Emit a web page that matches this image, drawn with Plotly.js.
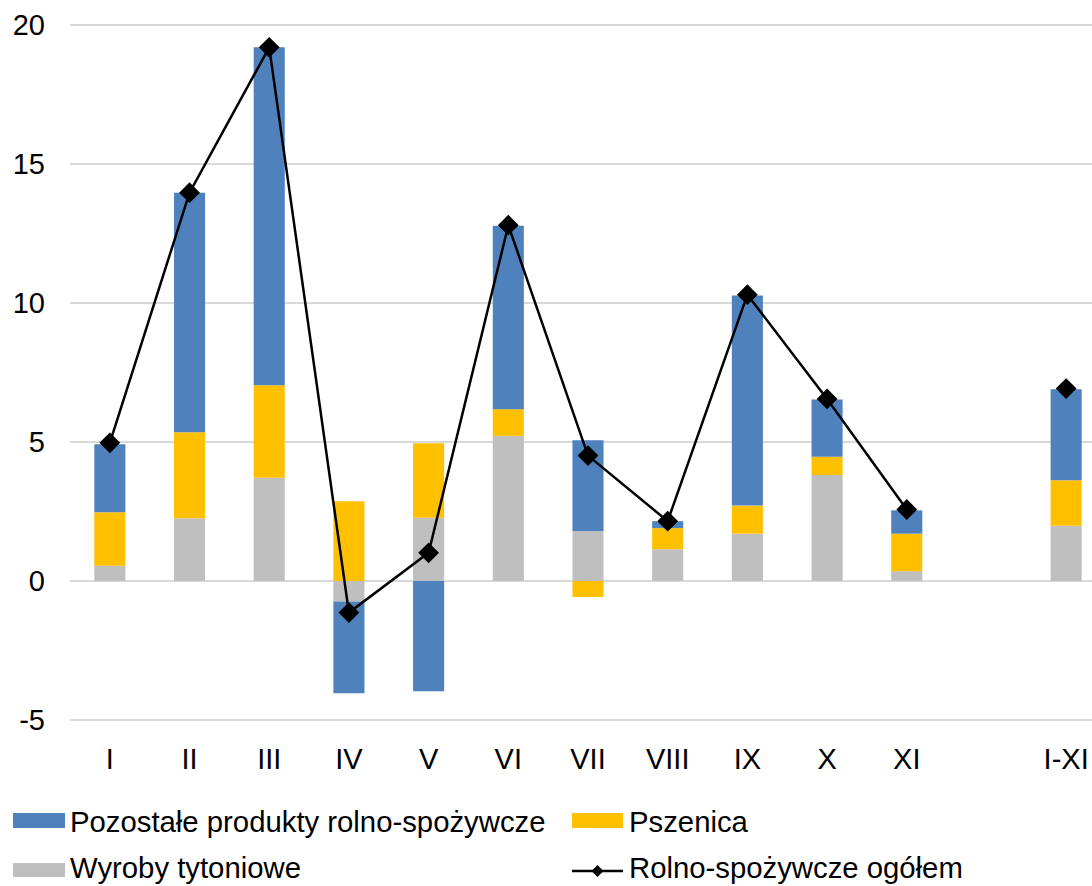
<!DOCTYPE html>
<html>
<head>
<meta charset="utf-8">
<script src="https://cdn.plot.ly/plotly-3.0.1.min.js"></script>
<style>
  html, body { margin: 0; padding: 0; overflow: hidden; background: #fff; }
  #chart { width: 1110px; height: 886px; }
</style>
</head>
<body>
<div id="chart"></div>
<script>
// ---- data ----
const categories = ['I', 'II', 'III', 'IV', 'V', 'VI', 'VII', 'VIII', 'IX', 'X', 'XI', ' ', 'I-XI'];
const wyrobyTytoniowe = [0.55, 2.26, 3.71, -0.74, 2.27, 5.22, 1.80, 1.14, 1.70, 3.81, 0.35, null, 1.99];
const pszenica = [1.92, 3.09, 3.33, 2.87, 2.68, 0.96, -0.58, 0.76, 1.01, 0.66, 1.35, null, 1.63];
const pozostale = [2.45, 8.62, 12.16, -3.30, -3.97, 6.60, 3.26, 0.25, 7.56, 2.06, 0.84, null, 3.28];
const ogolem = [4.97, 13.97, 19.2, -1.14, 1.01, 12.8, 4.51, 2.15, 10.3, 6.55, 2.57, null, 6.92];
const yTicks = [-5, 0, 5, 10, 15, 20];
const legendLabels = ['Pozostałe produkty rolno-spożywcze', 'Pszenica', 'Wyroby tytoniowe', 'Rolno-spożywcze ogółem'];

// ---- styling ----
const C_BLUE = '#4f81bd', C_YELLOW = '#ffc000', C_GREY = '#bfbfbf';
const FONT = 'Liberation Sans, Arial, sans-serif';
const FS = 29;

const W = 1110, H = 886;
const M = { l: 70, r: 4, t: 24, b: 165 };
const PW = W - M.l - M.r, PH = H - M.t - M.b;
const px = x => (x - M.l) / PW;
const py = y => (M.t + PH - y) / PH;

const traces = [
  { type: 'bar', name: 'Wyroby tytoniowe', x: categories, y: wyrobyTytoniowe,
    marker: { color: C_GREY }, showlegend: false },
  { type: 'bar', name: 'Pszenica', x: categories, y: pszenica,
    marker: { color: C_YELLOW }, showlegend: false },
  { type: 'bar', name: 'Pozostałe produkty rolno-spożywcze', x: categories, y: pozostale,
    marker: { color: C_BLUE }, showlegend: false },
  { type: 'scatter', mode: 'lines+markers', name: 'Rolno-spożywcze ogółem', x: categories, y: ogolem,
    connectgaps: false,
    line: { color: '#000', width: 2.5 },
    marker: { symbol: 'diamond', size: 16, color: '#000' }, showlegend: false }
];

// manual legend (swatches + text)
const shapes = [
  { type: 'rect', xref: 'paper', yref: 'paper', x0: px(13), x1: px(65), y0: py(828), y1: py(813),
    fillcolor: C_BLUE, line: { width: 0 } },
  { type: 'rect', xref: 'paper', yref: 'paper', x0: px(572), x1: px(623), y0: py(828), y1: py(813),
    fillcolor: C_YELLOW, line: { width: 0 } },
  { type: 'rect', xref: 'paper', yref: 'paper', x0: px(13), x1: px(65), y0: py(877), y1: py(863),
    fillcolor: C_GREY, line: { width: 0 } },
  { type: 'line', xref: 'paper', yref: 'paper', x0: px(572), x1: px(623), y0: py(871), y1: py(871),
    line: { color: '#000', width: 2.5 } },
  { type: 'path', xref: 'paper', yref: 'paper',
    path: `M ${px(597.5)} ${py(865)} L ${px(603.5)} ${py(871)} L ${px(597.5)} ${py(877)} L ${px(591.5)} ${py(871)} Z`,
    fillcolor: '#000', line: { width: 0 } }
];

const legendPos = [[68, 821], [627, 821], [68, 867], [627, 867]];
const annotations = legendLabels.map((t, i) => ({
  text: t, xref: 'paper', yref: 'paper', x: px(legendPos[i][0]), y: py(legendPos[i][1]),
  xanchor: 'left', yanchor: 'middle', showarrow: false,
  font: { family: FONT, size: 29.3, color: '#000' }
}));

const layout = {
  width: W, height: H,
  margin: M,
  paper_bgcolor: '#fff', plot_bgcolor: '#fff',
  barmode: 'relative',
  bargap: 0.61,
  showlegend: false,
  font: { family: FONT, size: FS, color: '#000' },
  xaxis: {
    type: 'category', range: [-0.5, 12.5],
    showgrid: false, zeroline: false, showline: false, ticks: '',
    tickfont: { family: FONT, size: FS, color: '#000' },
    ticklabelstandoff: 18, fixedrange: true
  },
  yaxis: {
    range: [-5.04, 20.04], tickvals: yTicks, ticktext: yTicks.map(String),
    showgrid: true, gridcolor: '#d9d9d9', gridwidth: 1.5,
    zeroline: true, zerolinecolor: '#d9d9d9', zerolinewidth: 1.5,
    showline: false, ticks: '',
    tickfont: { family: FONT, size: FS, color: '#000' },
    ticklabelstandoff: 24, fixedrange: true
  },
  shapes: shapes,
  annotations: annotations
};

Plotly.newPlot('chart', traces, layout, { displayModeBar: false, staticPlot: true });
</script>
</body>
</html>
